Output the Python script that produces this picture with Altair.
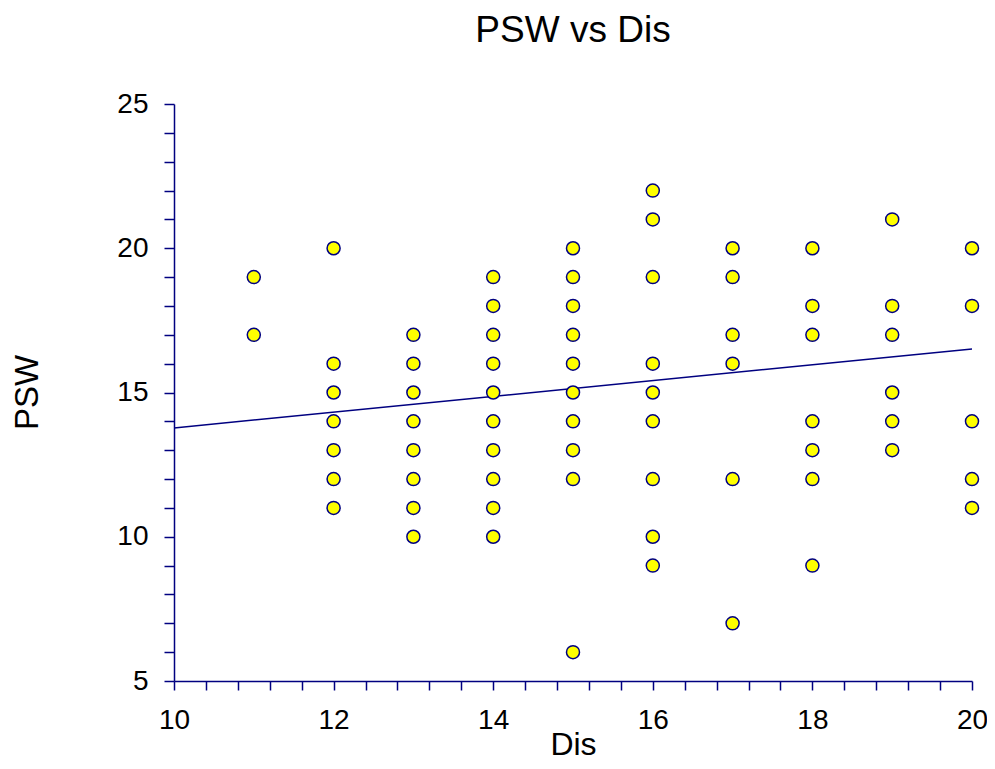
import altair as alt
import pandas as pd

# Data
dis = [11, 11,
       12, 12, 12, 12, 12, 12, 12,
       13, 13, 13, 13, 13, 13, 13, 13,
       14, 14, 14, 14, 14, 14, 14, 14, 14, 14,
       15, 15, 15, 15, 15, 15, 15, 15, 15, 15,
       16, 16, 16, 16, 16, 16, 16, 16, 16,
       17, 17, 17, 17, 17, 17,
       18, 18, 18, 18, 18, 18, 18,
       19, 19, 19, 19, 19, 19,
       20, 20, 20, 20, 20]
psw = [19, 17,
       20, 16, 15, 14, 13, 12, 11,
       17, 16, 15, 14, 13, 12, 11, 10,
       19, 18, 17, 16, 15, 14, 13, 12, 11, 10,
       20, 19, 18, 17, 16, 15, 14, 13, 12, 6,
       22, 21, 19, 16, 15, 14, 12, 10, 9,
       20, 19, 17, 16, 12, 7,
       20, 18, 17, 14, 13, 12, 9,
       21, 18, 17, 15, 14, 13,
       20, 18, 14, 12, 11]

# Fitted line end points
fit_x = [10, 20]
fit_y = [13.77, 16.51]

# Axis ticks and labels
x_ticks = [10, 10.4, 10.8, 11.2, 11.6, 12, 12.4, 12.8, 13.2, 13.6, 14, 14.4, 14.8,
           15.2, 15.6, 16, 16.4, 16.8, 17.2, 17.6, 18, 18.4, 18.8, 19.2, 19.6, 20]
x_labels = [10, 12, 14, 16, 18, 20]
y_ticks = list(range(5, 26))
y_labels = [5, 10, 15, 20, 25]

NAVY = "#000080"
FONT = "Liberation Sans"

pts = pd.DataFrame({"Dis": dis, "PSW": psw})
fit = pd.DataFrame({"Dis": fit_x, "PSW": fit_y})

x_label_expr = "indexof(" + str(x_labels) + ", datum.value) >= 0 ? format(datum.value, 'd') : ''"
y_label_expr = "indexof(" + str(y_labels) + ", datum.value) >= 0 ? format(datum.value, 'd') : ''"

x_axis = alt.Axis(title="Dis", values=x_ticks, labelExpr=x_label_expr,
                  grid=False, domainColor=NAVY, domainWidth=1.5,
                  tickColor=NAVY, tickWidth=1.5, tickSize=9,
                  labelFont=FONT, labelFontSize=28, labelColor="black",
                  labelPadding=16, labelFlush=False, labelOverlap=False,
                  titleFont=FONT, titleFontSize=32, titleFontWeight="normal",
                  titleColor="black", titleY=63, titleBaseline="middle")
y_axis = alt.Axis(title="PSW", values=y_ticks, labelExpr=y_label_expr,
                  grid=False, domainColor=NAVY, domainWidth=1.5,
                  tickColor=NAVY, tickWidth=1.5, tickSize=10,
                  labelFont=FONT, labelFontSize=28, labelColor="black",
                  labelPadding=16, labelFlush=False, labelOverlap=False,
                  titleFont=FONT, titleFontSize=33, titleFontWeight="normal",
                  titleColor="black", titleX=-147, titleY=288,
                  titleBaseline="middle", titleAngle=270)

x_scale = alt.Scale(domain=[10, 20], nice=False, zero=False)
y_scale = alt.Scale(domain=[5, 25], nice=False, zero=False)

line = alt.Chart(fit).mark_line(color=NAVY, strokeWidth=1.5).encode(
    x=alt.X("Dis:Q", scale=x_scale, axis=x_axis),
    y=alt.Y("PSW:Q", scale=y_scale, axis=y_axis))

points = alt.Chart(pts).mark_point(
    shape="circle", filled=True, fill="#ffff00", stroke=NAVY,
    strokeWidth=1.5, size=170, opacity=1
).encode(
    x=alt.X("Dis:Q", scale=x_scale, axis=x_axis),
    y=alt.Y("PSW:Q", scale=y_scale, axis=y_axis))

chart = alt.layer(line, points).properties(
    width=798, height=577,
    title=alt.TitleParams("PSW vs Dis", font=FONT, fontSize=37, fontWeight="normal",
                          color="black", anchor="middle", frame="group",
                          baseline="alphabetic", offset=11),
    autosize=alt.AutoSizeParams(type="none"),
    padding={"left": 166, "top": 96, "right": 15, "bottom": 80},
).configure(background="white").configure_view(stroke=None)

chart.save("out.html", embed_options={"renderer": "svg", "actions": False})
